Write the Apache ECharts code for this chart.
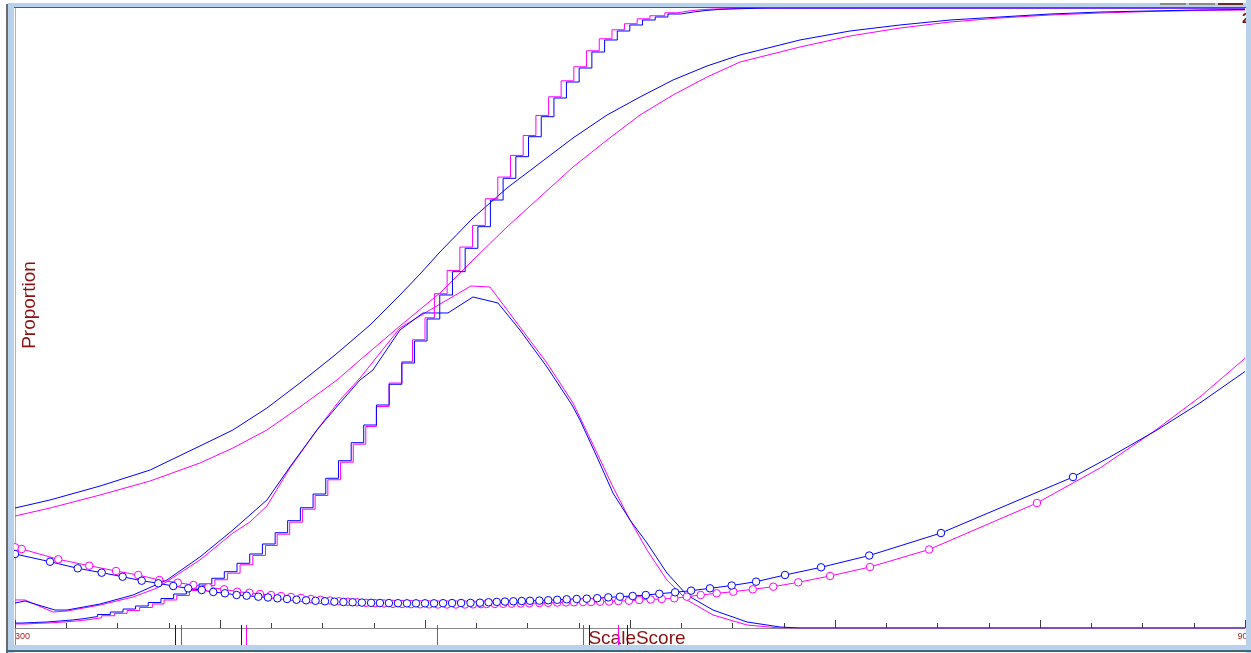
<!DOCTYPE html>
<html>
<head>
<meta charset="utf-8">
<script src="https://cdn.jsdelivr.net/npm/echarts@6/dist/echarts.min.js"></script>
<style>
html,body{margin:0;padding:0;background:#fff;}
#chart{width:1251px;height:653px;}
</style>
</head>
<body>
<div id="chart"></div>
<script>
// ---------- data (ScaleScore on x, Proportion on y) ----------
const xTickLabels = [300, 900];

const blueOgiveX = [300.0, 317.1, 341.5, 365.9, 390.2, 406.3, 422.9, 439.0, 456.1, 473.2, 487.8, 497.6, 507.3, 523.4, 540.0, 556.1, 572.2, 588.8, 604.9, 621.0, 637.6, 653.7, 682.9, 707.3, 731.7, 756.1, 780.5, 804.9, 829.3, 853.7, 878.0, 900.0];
const blueOgiveY = [0.1935, 0.2065, 0.2290, 0.2548, 0.2935, 0.3194, 0.3548, 0.3952, 0.4403, 0.4887, 0.5371, 0.5710, 0.6065, 0.6613, 0.7097, 0.7500, 0.7903, 0.8274, 0.8565, 0.8839, 0.9065, 0.9242, 0.9484, 0.9629, 0.9726, 0.9806, 0.9855, 0.9903, 0.9935, 0.9952, 0.9968, 0.9976];

const pinkOgiveX = [300.0, 317.1, 341.5, 365.9, 390.2, 406.3, 422.9, 439.0, 457.1, 468.3, 487.8, 507.3, 523.4, 540.0, 556.1, 572.2, 588.8, 604.9, 621.0, 637.6, 653.7, 682.9, 707.3, 731.7, 756.1, 780.5, 804.9, 829.3, 853.7, 878.0, 900.0];
const pinkOgiveY = [0.1806, 0.1935, 0.2145, 0.2371, 0.2661, 0.2903, 0.3194, 0.3565, 0.4000, 0.4323, 0.4871, 0.5403, 0.5935, 0.6468, 0.6952, 0.7435, 0.7871, 0.8274, 0.8597, 0.8887, 0.9129, 0.9371, 0.9548, 0.9677, 0.9774, 0.9839, 0.9887, 0.9919, 0.9944, 0.9960, 0.9968];

const blueBellX = [300.0, 304.9, 319.5, 325.4, 341.5, 357.6, 374.1, 390.2, 406.3, 422.9, 434.1, 447.3, 458.5, 468.3, 474.6, 487.8, 499.0, 511.2, 523.4, 535.6, 546.3, 559.5, 571.7, 575.6, 583.9, 591.7, 600.0, 608.3, 618.0, 627.8, 640.5, 657.1, 673.2, 682.9, 707.3, 900.0];
const blueBellY = [0.0403, 0.0435, 0.0290, 0.0290, 0.0387, 0.0532, 0.0774, 0.1145, 0.1581, 0.2065, 0.2597, 0.3194, 0.3629, 0.4000, 0.4161, 0.4806, 0.5081, 0.5081, 0.5339, 0.5242, 0.4806, 0.4210, 0.3597, 0.3355, 0.2758, 0.2177, 0.1742, 0.1371, 0.0887, 0.0532, 0.0290, 0.0097, 0.0016, 0, 0, 0];

const pinkBellX = [300.0, 304.9, 318.5, 325.4, 341.5, 357.6, 369.3, 390.2, 406.3, 414.6, 422.9, 434.1, 447.3, 458.5, 468.3, 487.8, 502.4, 522.4, 531.7, 546.3, 559.5, 572.2, 583.9, 591.7, 600.0, 608.3, 618.0, 627.8, 640.5, 657.1, 673.2, 707.3, 900.0];
const pinkBellY = [0.0452, 0.0452, 0.0258, 0.0274, 0.0371, 0.0500, 0.0645, 0.1097, 0.1532, 0.1710, 0.1968, 0.2581, 0.3194, 0.3677, 0.4032, 0.4839, 0.5129, 0.5516, 0.5500, 0.4855, 0.4274, 0.3629, 0.2823, 0.2274, 0.1742, 0.1258, 0.0774, 0.0452, 0.0210, 0.0048, 0, 0, 0];

const blueStepX = [300, 303.2, 309.4, 315.6, 321.8, 327.9, 334.1, 340.3, 346.5, 352.7, 358.8, 365.0, 371.2, 377.4, 383.6, 389.8, 396.0, 402.1, 408.3, 414.5, 420.7, 426.9, 433.0, 439.2, 445.4, 451.6, 457.8, 464.0, 470.1, 476.3, 482.5, 488.7, 494.9, 501.0, 507.2, 513.4, 519.6, 525.8, 531.9, 538.1, 544.3, 550.5, 556.7, 562.9, 569.0, 575.2, 581.4, 587.6, 593.8, 599.9, 606.1, 612.3, 618.5, 624.7, 630.9, 637.0, 643.2, 649.4, 655.6, 661.8, 667.9, 900];
const blueStepY = [0.0080, 0.0089, 0.0097, 0.0113, 0.0129, 0.0153, 0.0185, 0.0218, 0.0258, 0.0306, 0.0355, 0.0411, 0.0476, 0.0548, 0.0629, 0.0710, 0.0802, 0.0908, 0.1044, 0.1194, 0.1355, 0.1537, 0.1731, 0.1940, 0.2161, 0.2415, 0.2698, 0.2989, 0.3274, 0.3597, 0.3931, 0.4274, 0.4629, 0.4984, 0.5371, 0.5747, 0.6124, 0.6473, 0.6903, 0.7253, 0.7602, 0.7924, 0.8247, 0.8548, 0.8806, 0.9032, 0.9290, 0.9484, 0.9629, 0.9726, 0.9806, 0.9855, 0.9903, 0.9935, 0.9960, 0.9976, 0.9984, 0.9990, 0.9995, 0.9998, 1.0, 1.0];

const pinkStepX = [300, 305.2, 311.4, 317.6, 323.8, 329.9, 336.1, 342.3, 348.5, 354.7, 360.8, 367.0, 372.7, 378.9, 385.1, 391.3, 397.5, 403.6, 409.8, 416.0, 422.2, 427.9, 434.0, 440.2, 446.4, 452.6, 458.8, 465.0, 471.1, 476.3, 482.5, 488.7, 493.9, 500.0, 504.6, 510.8, 517.0, 523.2, 529.4, 535.5, 541.7, 547.9, 554.1, 560.3, 566.4, 572.6, 578.8, 585.0, 591.2, 597.3, 603.5, 609.7, 617.0, 623.2, 629.4, 635.5, 641.7, 647.9, 654.1, 660.3, 666.4, 900];
const pinkStepY = [0.0065, 0.0075, 0.0083, 0.0097, 0.0113, 0.0135, 0.0165, 0.0198, 0.0236, 0.0282, 0.0331, 0.0387, 0.0452, 0.0524, 0.0605, 0.0686, 0.0778, 0.0884, 0.1020, 0.1170, 0.1331, 0.1513, 0.1707, 0.1916, 0.2137, 0.2391, 0.2674, 0.2965, 0.3250, 0.3573, 0.3951, 0.4294, 0.4649, 0.5004, 0.5391, 0.5767, 0.6144, 0.6493, 0.6923, 0.7273, 0.7622, 0.7944, 0.8267, 0.8568, 0.8826, 0.9052, 0.9310, 0.9504, 0.9649, 0.9746, 0.9826, 0.9875, 0.9923, 0.9955, 0.9975, 0.9985, 0.9990, 0.9994, 0.9997, 0.9999, 1.0, 1.0];

const blueMarkX = [300.0, 317.1, 330.6, 342.3, 352.5, 361.8, 369.9, 377.2, 384.5, 391.1, 396.7, 402.4, 408.1, 413.0, 418.7, 423.4, 428.0, 432.7, 437.3, 442.0, 446.6, 451.2, 455.8, 460.2, 464.7, 469.2, 473.7, 478.0, 482.4, 486.8, 491.2, 495.6, 500.0, 504.4, 508.8, 513.2, 517.6, 522.2, 526.8, 531.0, 535.0, 539.0, 543.1, 547.2, 551.2, 555.8, 560.1, 564.5, 569.1, 574.0, 578.9, 584.0, 589.4, 595.1, 601.3, 607.7, 614.3, 622.0, 629.8, 639.0, 649.6, 661.5, 675.6, 693.2, 716.7, 751.7, 816.1];
const blueMarkY = [0.1194, 0.1069, 0.0963, 0.0892, 0.0827, 0.0763, 0.0721, 0.0677, 0.0640, 0.0613, 0.0581, 0.0560, 0.0532, 0.0521, 0.0505, 0.0492, 0.0479, 0.0468, 0.0456, 0.0447, 0.0439, 0.0431, 0.0424, 0.0419, 0.0415, 0.0410, 0.0406, 0.0403, 0.0402, 0.0400, 0.0398, 0.0398, 0.0398, 0.0398, 0.0400, 0.0402, 0.0403, 0.0405, 0.0408, 0.0415, 0.0421, 0.0426, 0.0431, 0.0435, 0.0439, 0.0442, 0.0448, 0.0455, 0.0463, 0.0468, 0.0473, 0.0481, 0.0494, 0.0505, 0.0516, 0.0532, 0.0552, 0.0576, 0.0602, 0.0640, 0.0685, 0.0747, 0.0855, 0.0979, 0.1169, 0.1532, 0.2435];
const blueTailX = [834.1, 857.1, 878.0, 900.0];
const blueTailY = [0.2758, 0.3194, 0.3629, 0.4137];

const pinkMarkX = [300.0, 303.3, 321.1, 336.2, 349.3, 360.1, 370.4, 379.4, 387.0, 394.3, 402.0, 408.4, 414.3, 419.5, 424.9, 429.8, 434.6, 439.5, 444.4, 449.0, 453.7, 458.0, 462.4, 466.8, 471.2, 475.6, 480.0, 484.4, 488.8, 493.2, 497.6, 502.0, 506.3, 510.7, 515.1, 519.5, 523.4, 527.3, 530.1, 534.1, 538.2, 542.3, 546.7, 550.9, 555.8, 560.1, 564.5, 568.8, 572.7, 577.1, 581.0, 585.4, 589.8, 594.3, 599.5, 604.5, 610.1, 615.5, 621.6, 627.7, 634.5, 642.3, 650.4, 659.9, 669.9, 682.1, 697.6, 717.1, 745.9, 798.5];
const pinkMarkY = [0.1302, 0.1274, 0.1108, 0.1005, 0.0919, 0.0855, 0.0774, 0.0731, 0.0694, 0.0656, 0.0624, 0.0585, 0.0569, 0.0548, 0.0532, 0.0516, 0.0500, 0.0484, 0.0468, 0.0455, 0.0444, 0.0432, 0.0423, 0.0415, 0.0406, 0.0400, 0.0395, 0.0390, 0.0387, 0.0384, 0.0382, 0.0381, 0.0379, 0.0379, 0.0379, 0.0379, 0.0381, 0.0384, 0.0387, 0.0387, 0.0390, 0.0392, 0.0395, 0.0398, 0.0403, 0.0406, 0.0410, 0.0413, 0.0415, 0.0418, 0.0419, 0.0424, 0.0427, 0.0435, 0.0440, 0.0452, 0.0460, 0.0468, 0.0479, 0.0505, 0.0532, 0.0560, 0.0585, 0.0624, 0.0666, 0.0737, 0.0839, 0.0984, 0.1266, 0.2016];
const pinkTailX = [829.3, 855.1, 878.0, 900.0];
const pinkTailY = [0.2581, 0.3161, 0.3726, 0.4350];

const blueRug = [378.0, 410.2, 580.0, 598.5];
const pinkRug = [381.0, 412.5, 505.9, 577.1, 594.1];

// ---------- chart ----------
const BLUE = '#0000ff', PINK = '#ff00ff', RED = '#8b1010';
const zip = (xs, ys) => xs.map((x, i) => [x, ys[i]]);

function lineSeries(data, color, extra) {
  return Object.assign({
    type: 'line', data: data, showSymbol: false, symbol: 'none', silent: true, smooth: false,
    lineStyle: { color: color, width: 1 }, itemStyle: { color: color }
  }, extra || {});
}
function markerSeries(data, color) {
  return {
    type: 'scatter', data: data, silent: true, symbol: 'circle', symbolSize: 7.5, z: 3,
    itemStyle: { color: '#ffffff', borderColor: color, borderWidth: 1, opacity: 1 }
  };
}
function rugSeries(vals, color) {
  return {
    type: 'custom', silent: true, clip: false, z: 5,
    data: vals.map(v => [v, 0]),
    renderItem: function (params, api) {
      const p = api.coord([api.value(0), 0]);
      const x = Math.round(p[0]) + 0.5;
      return { type: 'line', shape: { x1: x, y1: p[1] - 3, x2: x, y2: p[1] + 17 },
               style: { stroke: color, lineWidth: 1 } };
    }
  };
}

const chart = echarts.init(document.getElementById('chart'), null, { renderer: 'canvas' });
const font = 'Liberation Sans, Arial, sans-serif';
chart.setOption({
  animation: false,
  backgroundColor: '#ffffff',
  grid: { left: 15, right: 6, top: 8, bottom: 25, containLabel: false, outerBoundsMode: 'none' },
  xAxis: {
    type: 'value', min: 300, max: 900, interval: 100,
    name: 'ScaleScore', nameLocation: 'middle', nameGap: 1, nameMoveOverlap: false,
    nameTextStyle: { fontSize: 19, color: RED, fontFamily: font, padding: [0, 0, 0, 14], verticalAlign: 'top' },
    axisLine: { show: true, lineStyle: { color: '#8a8a8a', width: 1 } },
    axisTick: { show: true, inside: true, length: 8, lineStyle: { color: '#404040' } },
    minorTick: { show: true, splitNumber: 4, length: 5, lineStyle: { color: '#404040' } },
    splitLine: { show: false },
    axisLabel: {
      show: true, margin: 4, fontSize: 9, color: '#b22222', fontFamily: font,
      alignMinLabel: 'left',
      formatter: v => (xTickLabels.indexOf(v) >= 0 ? String(v) : '')
    }
  },
  yAxis: {
    type: 'value', min: 0, max: 1,
    name: 'Proportion', nameLocation: 'middle', nameRotate: 90, nameGap: -24, nameMoveOverlap: false,
    nameTextStyle: { fontSize: 19, color: RED, fontFamily: font, padding: [0, 0, 0, 26] },
    axisLine: { show: true, lineStyle: { color: '#ee82ee', width: 1 } },
    axisTick: { show: false }, axisLabel: { show: false }, splitLine: { show: false }
  },
  series: [
    lineSeries(zip(pinkOgiveX, pinkOgiveY), PINK),
    lineSeries(zip(blueOgiveX, blueOgiveY), BLUE),
    lineSeries(zip(pinkBellX, pinkBellY), PINK),
    lineSeries(zip(blueBellX, blueBellY), BLUE),
    lineSeries(zip(pinkStepX, pinkStepY), PINK, { step: 'end' }),
    lineSeries(zip(blueStepX, blueStepY), BLUE, { step: 'end' }),
    lineSeries(zip(pinkMarkX, pinkMarkY).concat(zip(pinkTailX, pinkTailY)), PINK),
    lineSeries(zip(blueMarkX, blueMarkY).concat(zip(blueTailX, blueTailY)), BLUE),
    markerSeries(zip(pinkMarkX, pinkMarkY), PINK),
    markerSeries(zip(blueMarkX, blueMarkY), BLUE),
    rugSeries(blueRug, BLUE),
    rugSeries(pinkRug, PINK)
  ],
  graphic: [
    { type: 'text', left: 1242, top: 12, z: 50, style: { text: '2', fontSize: 14, fontWeight: 'bold', fill: RED, fontFamily: font } },
    { type: 'line', z: 60, shape: { x1: 15.5, y1: 628, x2: 15.5, y2: 645 }, style: { stroke: '#8a8a8a', lineWidth: 1 } },
    { type: 'rect', z: 100, shape: { x: 6, y: 4, width: 2, height: 649 }, style: { fill: '#6a6a6a' } },
    { type: 'rect', z: 100, shape: { x: 8, y: 3, width: 6, height: 650 }, style: { fill: '#b9d1ea' } },
    { type: 'rect', z: 100, shape: { x: 8, y: 3, width: 1243, height: 4 }, style: { fill: '#b9d1ea' } },
    { type: 'rect', z: 100, shape: { x: 1246, y: 0, width: 5, height: 653 }, style: { fill: '#b9d1ea' } },
    { type: 'rect', z: 100, shape: { x: 14, y: 7, width: 1232, height: 1 }, style: { fill: '#5a5a5a' } },
    { type: 'rect', z: 100, shape: { x: 8, y: 645, width: 1243, height: 5 }, style: { fill: '#b9d1ea' } },
    { type: 'rect', z: 100, shape: { x: 6, y: 650, width: 1245, height: 2 }, style: { fill: '#3a6878' } },
    { type: 'rect', z: 101, shape: { x: 1160, y: 3, width: 26, height: 2 }, style: { fill: '#8a8a8a' } },
    { type: 'rect', z: 101, shape: { x: 1189, y: 3, width: 26, height: 2 }, style: { fill: '#8a8a8a' } },
    { type: 'rect', z: 101, shape: { x: 1218, y: 3, width: 25, height: 2 }, style: { fill: '#6b2a2a' } }
  ]
});
</script>
</body>
</html>
